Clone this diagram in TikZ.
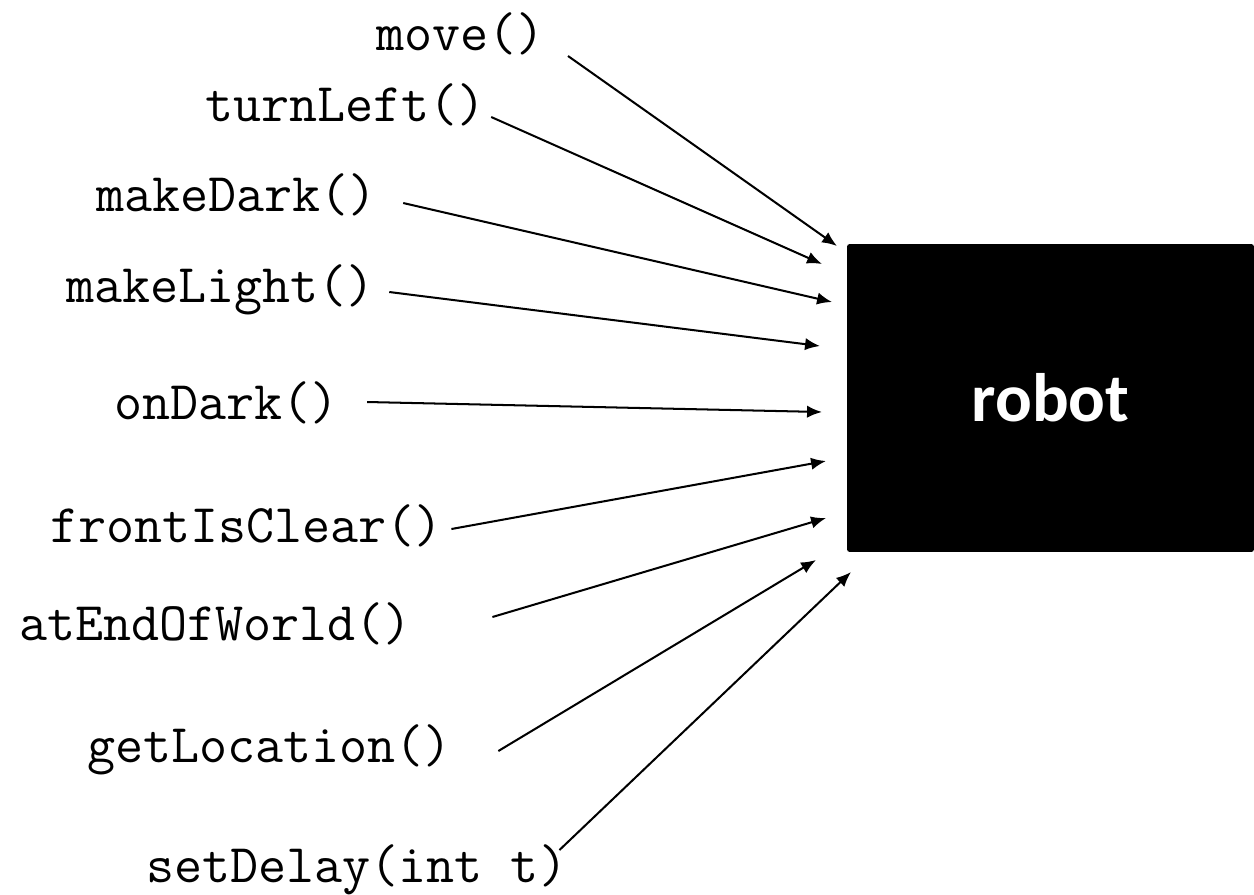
\documentclass[tikz,border=0pt]{standalone}
\usepackage{fontspec}
\newfontfamily\robotfont{Carlito}
\usetikzlibrary{arrows.meta}

\begin{document}
\begin{tikzpicture}[x=0.02cm,y=-0.02cm,
  call/.style={anchor=west,inner sep=0pt,font=\fontsize{31}{35}\ttfamily},
  msg/.style={line width=1.15pt,-{Latex[length=8.5pt,width=7pt]}}]
  \useasboundingbox (0,0) rectangle (1254,894);
  % the object that gets the calls
  \node[fill=black,text=white,rounded corners=1.5pt,inner sep=0pt,
        minimum width=8.14cm,minimum height=6.16cm,
        font=\fontsize{39}{41}\robotfont\bfseries] (robot) at (1050.5,398) {robot};
  % methods
  \node[call] (mv) at (376,34) {move()};
  \node[call] (tl) at (205,105) {turnLeft()};
  \node[call] (md) at (96,195) {makeDark()};
  \node[call] (ml) at (66,290) {makeLight()};
  \node[call] (od) at (114,403) {onDark()};
  \node[call] (fc) at (50,526) {frontIsClear()};
  \node[call] (ew) at (19,624) {atEndOfWorld()};
  \node[call] (gl) at (87,750) {getLocation()};
  \node[call] (sd) at (146,870) {setDelay(int t)};
  % arrow tips, just short of the box
  \coordinate (in1) at (837,246);
  \coordinate (in2) at (822,264);
  \coordinate (in3) at (832,302);
  \coordinate (in4) at (820,346);
  \coordinate (in5) at (822,412);
  \coordinate (in6) at (826,461);
  \coordinate (in7) at (826,518);
  \coordinate (in8) at (816,560);
  \coordinate (in9) at (851,572);
  \draw[msg] ([shift={(23,22)}]mv.east) -- (in1);
  \draw[msg] ([shift={(5,12)}]tl.east) -- (in2);
  \draw[msg] ([shift={(26,8)}]md.east) -- (in3);
  \draw[msg] ([shift={(14,2)}]ml.east) -- (in4);
  \draw[msg] ([shift={(28,-1)}]od.east) -- (in5);
  \draw[msg] ([shift={(8,3)}]fc.east) -- (in6);
  \draw[msg] ([shift={(80,-7)}]ew.east) -- (in7);
  \draw[msg] ([shift={(46,1)}]gl.east) -- (in8);
  \draw[msg] ([shift={(-8,-20)}]sd.east) -- (in9);
\end{tikzpicture}
\end{document}
